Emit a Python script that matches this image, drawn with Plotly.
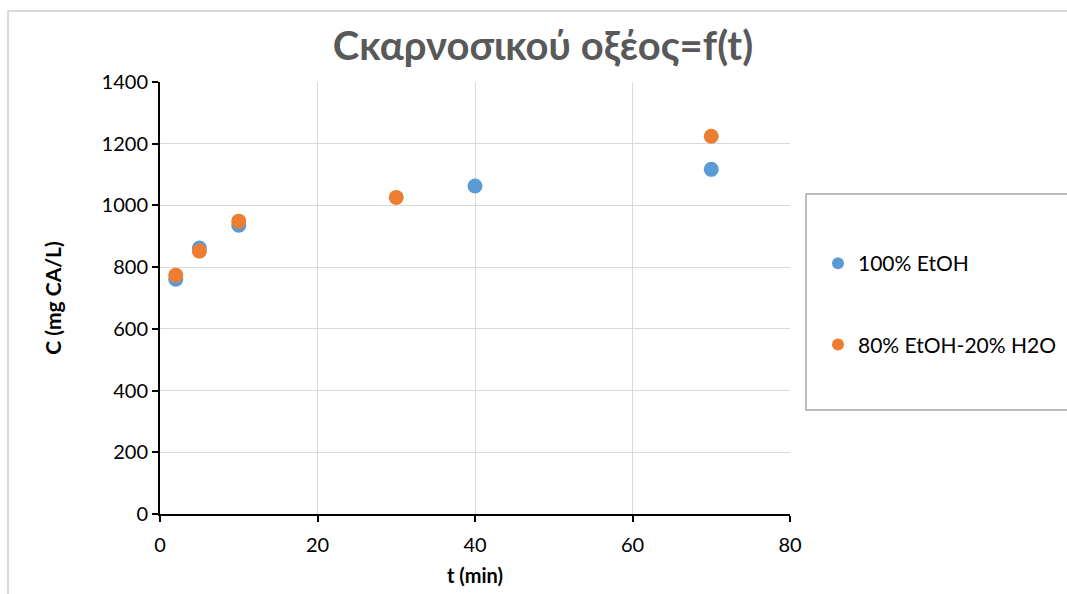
import plotly.graph_objects as go

t_etoh = [2, 5, 10, 40, 70]
c_etoh = [761, 862, 936, 1063, 1117]
t_mix = [2, 5, 10, 30, 70]
c_mix = [774, 852, 949, 1026, 1224]

blue = "#5B9BD5"
orange = "#ED7D31"
font_family = "Lato, 'Open Sans', Arial, sans-serif"

fig = go.Figure()
fig.add_trace(go.Scatter(x=t_etoh, y=c_etoh, mode="markers", name="100% EtOH",
                         legendgroup="a",
                         marker=dict(color=blue, size=15)))
fig.add_trace(go.Scatter(x=t_mix, y=c_mix, mode="markers", name="80% EtOH-20% H2O",
                         legendgroup="b",
                         marker=dict(color=orange, size=15)))

L, R, T, B = 160, 277, 82, 80
W, H = 1067, 594
pw, ph = W - L - R, H - T - B

def px(x):
    return (x - L) / pw

def py(y):
    return (H - B - y) / ph

fig.update_layout(
    width=W, height=H,
    margin=dict(l=L, r=R, t=T, b=B, autoexpand=False),
    paper_bgcolor="white", plot_bgcolor="white",
    font=dict(family=font_family, color="black", size=20),
    title=dict(text="<b>Cκαρνοσικού οξέος=f(t)</b>", x=(543) / W, xanchor="center",
               y=1 - 46 / H, yanchor="middle",
               font=dict(size=40, color="#595959", family=font_family)),
    showlegend=True,
    legend=dict(xref="container", yref="container",
                x=818 / W, xanchor="left", y=1 - 243 / H, yanchor="top",
                bgcolor="rgba(0,0,0,0)", borderwidth=0,
                font=dict(size=21, color="black"),
                tracegroupgap=51, itemsizing="constant"),
    shapes=[
        dict(type="rect", xref="paper", yref="paper",
             x0=px(806), x1=px(1075), y0=py(410), y1=py(194),
             line=dict(color="#a6a6a6", width=1.5), fillcolor="rgba(0,0,0,0)", layer="below"),
        dict(type="rect", xref="paper", yref="paper",
             x0=px(8), x1=px(1080), y0=py(610), y1=py(11),
             line=dict(color="#d9d9d9", width=2), fillcolor="rgba(0,0,0,0)", layer="below"),
    ],
)

fig.update_xaxes(range=[0, 80], dtick=20, showgrid=True, gridcolor="#d9d9d9", gridwidth=1,
                 zeroline=False, showline=True, linecolor="black", linewidth=2,
                 ticks="outside", ticklen=6, tickcolor="black", tickwidth=1.5,
                 tickfont=dict(size=20), ticklabelstandoff=6,
                 title=dict(text="<b>t (min)</b>", font=dict(size=20), standoff=14))
fig.update_yaxes(range=[0, 1400], dtick=200, showgrid=True, gridcolor="#d9d9d9", gridwidth=1,
                 zeroline=False, showline=True, linecolor="black", linewidth=2,
                 ticks="outside", ticklen=6, tickcolor="black", tickwidth=1.5,
                 tickfont=dict(size=20),
                 title=dict(text="<b>C (mg CA/L)</b>", font=dict(size=21), standoff=34))

fig.write_html("out.html")
